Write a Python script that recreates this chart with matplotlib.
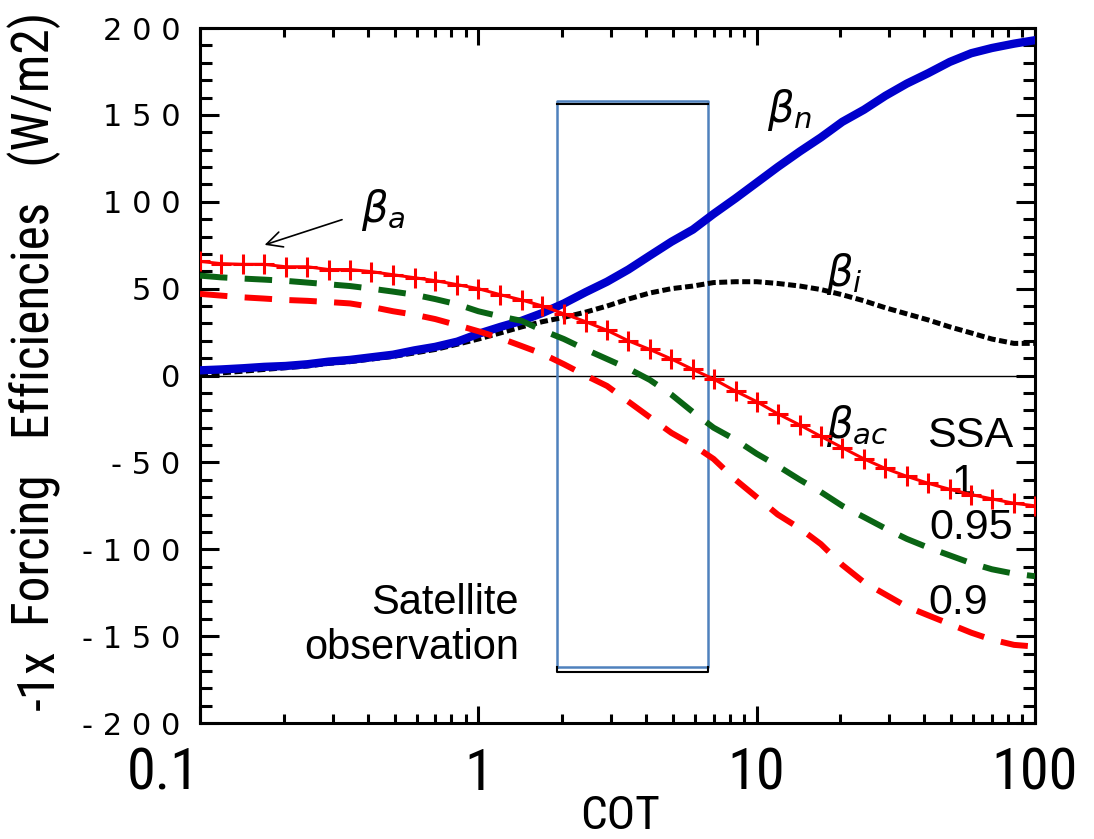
import matplotlib
matplotlib.use('Agg')
import matplotlib.pyplot as plt
from matplotlib import font_manager
from matplotlib.ticker import MultipleLocator, FixedLocator, NullFormatter, FuncFormatter

# COT grid (one point per '+' marker)
cot = [0.1, 0.119, 0.143, 0.170, 0.203, 0.243, 0.290, 0.346, 0.413, 0.494,
       0.59, 0.70, 0.84, 1.0, 1.2, 1.43, 1.7, 2.03, 2.43, 2.9,
       3.46, 4.13, 4.94, 5.9, 7.0, 8.4, 10, 11.9, 14.3, 17,
       20.3, 24.3, 29, 34.6, 41.3, 49.4, 59, 70, 84, 100]

beta_n = [3, 3.5, 4.2, 5, 5.5, 6.5, 8, 9, 10.5, 12,
          14.5, 16.5, 19.5, 24, 28, 31.5, 36, 41.5, 48, 54,
          61, 69, 77, 84, 93, 102, 111, 120, 129, 137,
          146, 153, 161, 168, 174, 180.5, 185.5, 188.5, 191, 193]

beta_i = [0.5, 1.5, 2.5, 3.5, 4.5, 5.5, 7, 8, 9.5, 11,
          13, 15, 18, 21, 24.5, 28, 31, 33.5, 36.5, 40,
          44, 47.5, 50, 51.5, 53.5, 54, 54, 53, 51.5, 49.5,
          46.5, 43, 39, 35.5, 32, 28, 24.5, 21, 18.5, 18.5]

# -1x forcing efficiency for SSA = 1, 0.95, 0.9
ssa_1 = [65.7, 64.4, 64, 64, 62.6, 62.6, 61, 61, 59.8, 58,
         56.3, 54.6, 52.3, 50, 46.5, 43.5, 40, 35.5, 31, 26,
         20, 15, 9.5, 3.5, -2, -9, -15, -22, -28.5, -35,
         -41.5, -48, -53.5, -58, -62, -65.5, -68.5, -71, -73.5, -75]

ssa_095 = [57.5, 56.5, 55.8, 55.2, 54.5, 53.5, 52.5, 51.5, 50, 48.3,
           46.5, 44, 41, 37, 34, 31.5, 26, 21, 15, 9.5,
           4, -2.5, -11, -21, -30, -37, -45, -52, -60, -67,
           -75, -81.5, -88, -94, -99, -103.5, -108, -111.5, -114, -115.5]

ssa_09 = [47, 46, 45, 44.3, 43.5, 43, 42.3, 41.5, 39.5, 37,
          35, 32.5, 29, 25.5, 21.5, 17, 12.5, 6.5, 0, -6,
          -15, -24, -33, -40, -48, -60, -70, -80, -88, -97,
          -109, -119, -126, -133, -138, -143, -148, -152, -155, -156]

sat_cot = [1.92, 6.7]
sat_box = [-168, 158]
sat_black = [-170.7, 156.3]

xticks = [0.1, 1, 10, 100]
xticklabels = ['0.1', '1', '10', '100']

names = {f.name for f in font_manager.fontManager.ttflist}
narrow = 'Roboto'
for cand in ['Liberation Sans Narrow', 'Roboto Condensed', 'DejaVu Sans Condensed']:
    if cand in names:
        narrow = cand
        break
arial = 'Liberation Sans'

plt.rcParams['mathtext.fontset'] = 'dejavusans'

fig = plt.figure(figsize=(10.94, 8.39), dpi=100)
ax = fig.add_axes([0.1828, 0.1382, 0.7633, 0.8284])
ax.set_xscale('log')
ax.set_xlim(0.1, 100)
ax.set_ylim(-200, 200)

ax.axhline(0, color='black', lw=1, zorder=1)

# satellite observation box
ax.plot([sat_cot[0], sat_cot[1], sat_cot[1], sat_cot[0], sat_cot[0]],
        [sat_box[0], sat_box[0], sat_box[1], sat_box[1], sat_box[0]],
        color='#4f81bd', lw=1.8, zorder=2)
ax.plot(sat_cot, [sat_black[1]] * 2, color='black', lw=1.5, zorder=2)
ax.plot([sat_cot[0], sat_cot[0], sat_cot[1], sat_cot[1]],
        [sat_box[0], sat_black[0], sat_black[0], sat_box[0]],
        color='black', lw=1.5, zorder=2)

ax.plot(cot, beta_i, color='black', lw=3.6, dashes=(1.6, 0.7), zorder=3)
ax.plot(cot, beta_n, color='#0000cc', lw=6, zorder=4)
ax.plot(cot, ssa_095, color='#0a6414', lw=4.3, dashes=(4.6, 2.9), zorder=5)
ax.plot(cot, ssa_09, color='#ff0000', lw=4.3, dashes=(4.6, 2.9), zorder=5)
ax.plot(cot, ssa_1, color='#ff0000', lw=2.2, marker='+', ms=15, mew=2.2, zorder=6)

# annotations
ax.text(10.9, 153, r'$\beta_n$', fontsize=30, ha='left', va='center')
ax.text(0.38, 95, r'$\beta_a$', fontsize=30, ha='left', va='center')
ax.text(17.8, 58.6, r'$\beta_i$', fontsize=30, ha='left', va='center')
ax.text(17.8, -29, r'$\beta_{ac}$', fontsize=30, ha='left', va='center')
ax.annotate('', xy=(0.167, 74.7), xytext=(0.331, 90.2),
            arrowprops=dict(arrowstyle='->', lw=1.2, color='black', mutation_scale=28))
ax.text(83.4, -35, 'SSA', fontsize=31, family=arial, ha='right', va='center')
ax.text(55.2, -62, '1', fontsize=31, family=arial, ha='center', va='center')
ax.text(83.4, -88, '0.95', fontsize=31, family=arial, ha='right', va='center')
ax.text(41.3, -131, '0.9', fontsize=31, family=arial, ha='left', va='center')
ax.text(1.40, -144, 'Satellite\nobservation', fontsize=30, family=arial,
        ha='right', va='center', multialignment='right', linespacing=1.15)

# axes styling
for sp in ax.spines.values():
    sp.set_linewidth(2.2)
ax.yaxis.set_major_locator(MultipleLocator(50))
ax.yaxis.set_minor_locator(MultipleLocator(10))
ax.yaxis.set_major_formatter(FuncFormatter(lambda v, p: ' '.join('%d' % v)))
ax.xaxis.set_major_locator(FixedLocator(xticks))
ax.xaxis.set_minor_locator(FixedLocator([m * d for d in [0.1, 1, 10] for m in range(2, 10)]))
ax.xaxis.set_minor_formatter(NullFormatter())
ax.set_xticklabels(xticklabels)
ax.tick_params(axis='both', which='both', direction='in', top=True, right=True, width=2.2)
ax.tick_params(axis='y', which='major', length=14, pad=14, labelsize=22)
ax.tick_params(axis='y', which='minor', length=8.5)
ax.tick_params(axis='x', which='major', length=12, pad=17, labelsize=42)
ax.tick_params(axis='x', which='minor', length=6.5)
for lab in ax.get_xticklabels():
    lab.set_family(narrow)
ax.get_xticklabels()[0].set_ha('right')

fig.text(0.031, 0.62, 'Forcing   Efficiencies   (W/m2)', rotation=90, family=narrow,
         fontsize=37, ha='center', va='center')
fig.text(0.036, 0.19, '-1x', rotation=90, family=narrow, fontsize=37, ha='center', va='center')
fig.text(0.567, 0.001, 'COT', family=narrow, fontsize=34, ha='center', va='bottom')

fig.savefig('out.png', dpi=100)
